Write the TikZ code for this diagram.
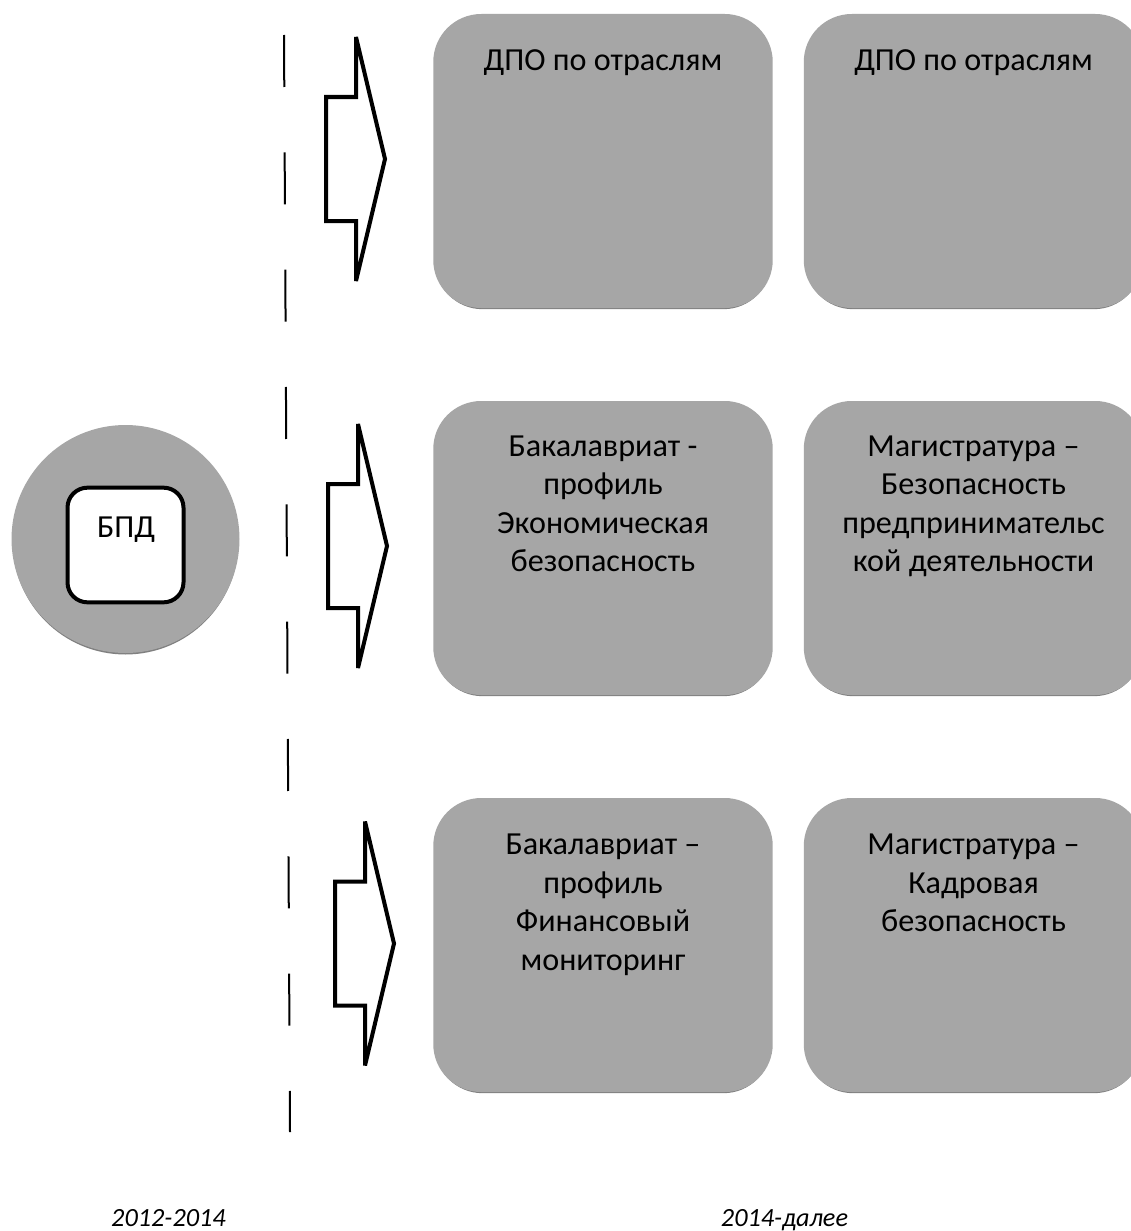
\documentclass[tikz,border=0pt]{standalone}
\usepackage{fontspec}
\setmainfont{Carlito}
\usetikzlibrary{calc,shadows}
\definecolor{boxgray}{RGB}{166,166,166}
\begin{document}
\begin{tikzpicture}[x=0.75pt,y=-0.75pt,
  graybox/.style={rounded corners=36pt, fill=boxgray, draw=none,
    minimum width=254.6pt, minimum height=220.5pt, inner sep=0pt,
    drop shadow={shadow xshift=0pt, shadow yshift=-2pt, shadow scale=0.99, fill=black!50, opacity=1}},
  graycircle/.style={circle, fill=boxgray, draw=none, minimum size=171pt, inner sep=0pt,
    drop shadow={shadow xshift=0pt, shadow yshift=-2pt, shadow scale=0.99, fill=black!50, opacity=1}},
  whitesq/.style={rounded corners=15pt, fill=white, draw=black, line width=3pt,
    minimum width=87pt, minimum height=86pt, inner sep=0pt},
  lbl/.style={font=\fontsize{24.1}{28.9}\selectfont, align=center, inner sep=0pt, anchor=base, text=black},
  yearlbl/.style={font=\fontsize{19.7}{23}\selectfont\itshape, inner sep=0pt, anchor=base, text=black},
  arrowline/.style={draw=black, line width=3pt, miter limit=2, fill=white},
  divider/.style={draw=black, line width=1.5pt, dash pattern=on 39pt off 49pt},
  fatarr/.pic={\path[arrowline] (0,-122) -- (29,0) -- (0,122) -- (0,62) -- (-30,62) -- (-30,-62) -- (0,-62) -- cycle;}
]
\fill[white] (0,0) rectangle (1131,1231);
\useasboundingbox (0,0) rectangle (1131,1231);

% dashed divider
\coordinate (dtop) at (284,35);
\coordinate (dbot) at (290,1132);
\draw[divider] (dtop) -- (dbot);

% left circle
\node[graycircle] (circ) at (125.5,539) {};
\node[whitesq] (sq) at (125.5,545) {};
\node[lbl] (bpd) at (126,537) {БПД};

% arrows
\pic at (356,159) {fatarr};
\pic at (358,546) {fatarr};
\pic at (365,943.5) {fatarr};

% boxes
\node[graybox] (b11) at (603,161) {};
\node[graybox] (b12) at (973.5,161) {};
\node[graybox] (b21) at (603,548) {};
\node[graybox] (b22) at (973.5,548) {};
\node[graybox] (b31) at (603,945) {};
\node[graybox] (b32) at (973.5,945) {};

% texts (anchor = baseline of the last line)
\node[lbl] (t11) at ($(b11.north)+(0,56.5)$) {ДПО по отраслям};
\node[lbl] (t12) at ($(b12.north)+(0,56.5)$) {ДПО по отраслям};
\node[lbl] (t21) at ($(b21.north)+(0,171)$) {Бакалавриат -\\профиль\\Экономическая\\безопасность};
\node[lbl] (t22) at ($(b22.north)+(0,171)$) {Магистратура –\\Безопасность\\предпринимательс\\кой деятельности};
\node[lbl] (t31) at ($(b31.north)+(0,172.6)$) {Бакалавриат –\\профиль\\Финансовый\\мониторинг};
\node[lbl] (t32) at ($(b32.north)+(0,134)$) {Магистратура –\\Кадровая\\безопасность};

% years
\node[yearlbl] (y1) at (168.5,1226.5) {2012-2014};
\node[yearlbl] (y2) at (784.5,1226.5) {2014-далее};
\end{tikzpicture}
\end{document}
